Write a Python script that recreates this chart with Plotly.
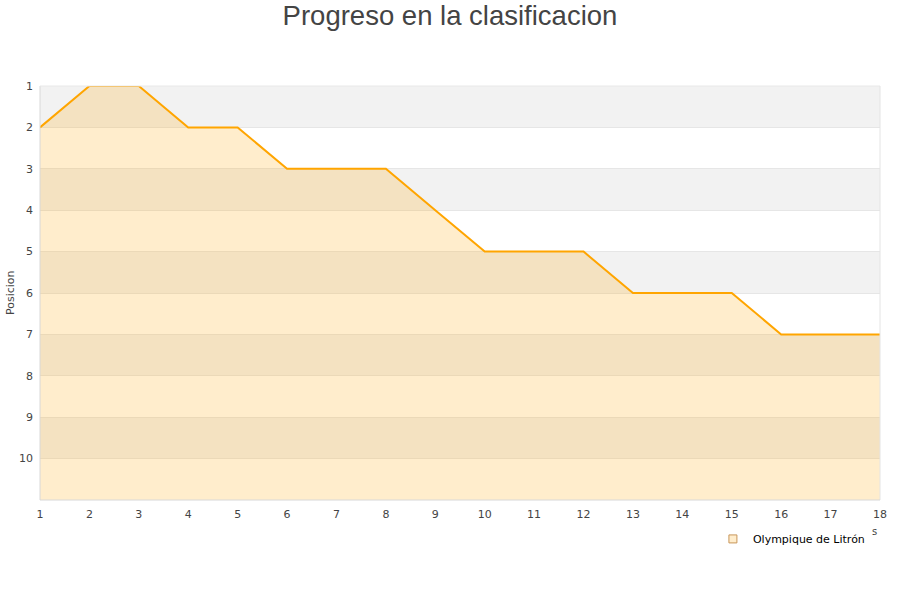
import plotly.graph_objects as go

jornadas = list(range(1, 19))
posiciones = [2, 1, 1, 2, 2, 3, 3, 3, 4, 5, 5, 5, 6, 6, 6, 7, 7, 7]
equipo = "Olympique de Litrón"
y_ticks = list(range(1, 11))

fig = go.Figure()

# baseline for fill
fig.add_trace(go.Scatter(x=jornadas, y=[11] * len(jornadas), mode="lines",
                         line=dict(width=0), showlegend=False, hoverinfo="skip"))
fig.add_trace(go.Scatter(x=jornadas, y=posiciones, mode="lines", fill="tonexty",
                         fillcolor="rgba(255,165,0,0.2)",
                         line=dict(color="#FFA500", width=2), showlegend=False,
                         name=equipo))
fig.add_trace(go.Scatter(x=[None], y=[None], mode="markers", name=equipo,
                         marker=dict(symbol="square", size=8, color="#ffedcc",
                                     line=dict(color="#c8965a", width=1))))

shapes = []
for k in [1, 3, 5, 7, 9]:
    shapes.append(dict(type="rect", xref="paper", yref="y", x0=0, x1=1, y0=k, y1=k + 1,
                       fillcolor="#f2f2f2", line=dict(width=0), layer="below"))
# plot border
shapes.append(dict(type="line", xref="paper", yref="paper", x0=0, x1=0, y0=0, y1=1,
                   line=dict(color="#d8d8d8", width=1)))
shapes.append(dict(type="line", xref="paper", yref="paper", x0=1, x1=1, y0=0, y1=1,
                   line=dict(color="#e4e4e4", width=1)))
shapes.append(dict(type="line", xref="paper", yref="paper", x0=0, x1=1, y0=0, y1=0,
                   line=dict(color="#d8d8d8", width=1)))
shapes.append(dict(type="line", xref="paper", yref="paper", x0=0, x1=1, y0=1, y1=1,
                   line=dict(color="#e8e8e8", width=1)))

fig.update_layout(
    width=900, height=600,
    margin=dict(l=40, r=20, t=86, b=100, autoexpand=False),
    paper_bgcolor="white", plot_bgcolor="white",
    font=dict(family="DejaVu Sans", size=11, color="#444"),
    title=dict(text="Progreso en la clasificacion", x=0.5, xanchor="center",
               y=1 - 15 / 600, yanchor="middle",
               font=dict(family="Liberation Sans", size=27.5, color="#444")),
    xaxis=dict(range=[1, 18], tickmode="array", tickvals=jornadas, automargin=False,
               showgrid=False, zeroline=False, ticks="", showline=False,
               ticklabelstandoff=6,
               tickfont=dict(size=11, color="#444")),
    yaxis=dict(range=[11, 1], tickmode="array", tickvals=y_ticks, automargin=False,
               showgrid=True, gridcolor="#e6e6e6", gridwidth=1, zeroline=False,
               showline=False, ticks="", ticklabelstandoff=6,
               tickfont=dict(size=11, color="#444")),
    shapes=shapes,
    showlegend=True,
    legend=dict(x=0.988, xanchor="right", y=-0.094, yanchor="middle",
                font=dict(size=11, color="black"), bgcolor="rgba(0,0,0,0)"),
    annotations=[
        dict(text="s", xref="paper", yref="paper", x=0.999, y=-0.094,
             showarrow=False, font=dict(size=10, color="#444")),
        dict(text="Posicion", xref="paper", yref="paper", x=-30 / 840, y=0.5,
             xanchor="center", yanchor="middle",
             textangle=-90, showarrow=False, font=dict(size=11, color="#444")),
    ],
)

fig.write_html("out.html", config={"displayModeBar": False},
               post_script="document.body.style.margin='0';")
